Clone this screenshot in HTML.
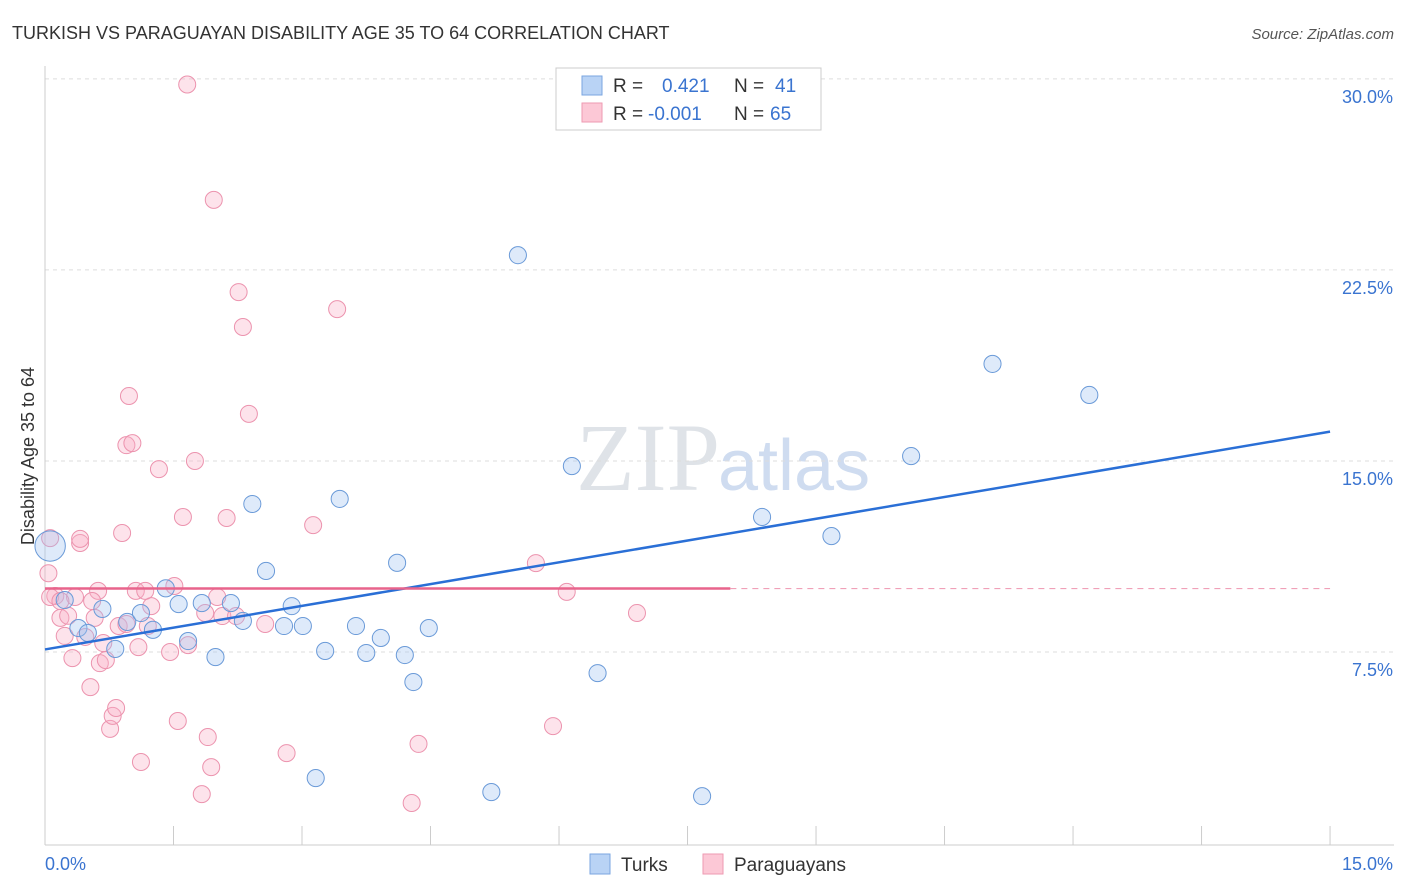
<!DOCTYPE html>
<html><head><meta charset="utf-8">
<style>
body{margin:0;background:#fff;font-family:"Liberation Sans",sans-serif;}
svg{display:block}
</style></head>
<body>
<svg id="chart" width="1406" height="892">
<text x="12" y="39" font-size="18" fill="#333">TURKISH VS PARAGUAYAN DISABILITY AGE 35 TO 64 CORRELATION CHART</text>
<text x="1394" y="39" font-size="15" fill="#555" font-style="italic" text-anchor="end">Source: ZipAtlas.com</text>
<text x="720" y="490" font-size="96" fill="#dfe3e8" text-anchor="end" font-family="Liberation Serif,serif">ZIP</text>
<text x="718" y="490" font-size="72" fill="#cfdcf0">atlas</text>
<g id="grid"></g>
<g id="axes"></g>
<g id="pink"></g>
<g id="blue"></g>
<g id="lines"></g>
<text transform="translate(34,456) rotate(-90)" font-size="18" fill="#333" text-anchor="middle">Disability Age 35 to 64</text>
<g>
<rect x="556" y="68" width="265" height="62" fill="#fff" stroke="#ccc"/>
<rect x="582" y="76" width="20" height="19" fill="#b9d3f5" stroke="#7aa6e0"/>
<rect x="582" y="103" width="20" height="19" fill="#fcc8d6" stroke="#ee9ab2"/>
<text x="613" y="92" font-size="19" fill="#333">R = </text><text x="662" y="92" font-size="19" fill="#3a74d0">0.421</text>
<text x="734" y="92" font-size="19" fill="#333">N = </text><text x="775" y="92" font-size="19" fill="#3a74d0">41</text>
<text x="613" y="120" font-size="19" fill="#333">R = </text><text x="648" y="120" font-size="19" fill="#3a74d0">-0.001</text>
<text x="734" y="120" font-size="19" fill="#333">N = </text><text x="770" y="120" font-size="19" fill="#3a74d0">65</text>
</g>
<g>
<rect x="590" y="854" width="20" height="20" fill="#b9d3f5" stroke="#7aa6e0"/>
<text x="621" y="871" font-size="19" fill="#333">Turks</text>
<rect x="703" y="854" width="20" height="20" fill="#fcc8d6" stroke="#ee9ab2"/>
<text x="734" y="871" font-size="19" fill="#333">Paraguayans</text>
</g>
</svg>
<script>
const yTicks=[7.5,15,22.5,30];
const yTickLabels=["7.5%","15.0%","22.5%","30.0%"];
const xTickLabels=["0.0%","15.0%"];
const blueX=[0.06,0.23,0.39,0.5,0.67,0.82,0.96,1.12,1.26,1.41,1.56,1.67,1.83,1.99,2.17,2.31,2.42,2.58,2.79,2.88,3.01,3.16,3.27,3.44,3.63,3.75,3.92,4.11,4.2,4.3,4.48,5.21,5.52,6.15,6.45,7.67,8.37,9.18,10.11,11.06,12.19];
const blueY=[11.66,9.54,8.44,8.25,9.19,7.62,8.68,9.03,8.37,10.0,9.38,7.93,9.42,7.3,9.42,8.72,13.31,10.68,8.52,9.3,8.52,2.55,7.54,13.51,8.52,7.46,8.05,11.0,7.38,6.32,8.44,2.0,23.08,14.8,6.67,1.84,12.8,12.05,15.19,18.81,17.59];
const blueR=[16,9,9,9,9,9,9,9,9,9,9,9,9,9,9,9,9,9,9,9,9,9,9,9,9,9,9,9,9,9,9,9,9,9,9,9,9,9,9,9,9];
const pinkX=[0.04,0.06,0.12,0.18,0.23,0.27,0.32,0.35,0.41,0.41,0.47,0.53,0.58,0.62,0.64,0.68,0.71,0.76,0.79,0.83,0.86,0.9,0.95,0.98,0.95,1.02,1.06,1.09,1.12,1.2,1.24,1.33,1.46,1.51,1.55,1.61,1.66,1.67,1.75,1.83,1.87,1.9,1.94,1.97,2.01,2.07,2.12,2.23,2.26,2.31,2.38,2.57,2.82,3.13,3.41,4.28,4.36,5.73,5.93,6.09,6.91,0.06,0.55,1.17,0.18];
const pinkY=[10.59,11.97,9.7,8.84,8.13,8.92,7.26,9.66,11.78,11.94,8.09,6.12,8.84,9.9,7.06,7.85,7.18,4.48,4.99,5.3,8.52,12.17,8.6,17.55,15.62,15.7,9.9,7.69,3.18,8.52,9.3,14.68,7.5,10.09,4.79,12.8,29.78,7.77,15.0,1.92,9.03,4.16,2.98,25.25,9.66,8.91,12.76,8.91,21.63,20.26,16.85,8.6,3.53,12.48,20.96,1.57,3.89,10.99,4.59,9.86,9.03,9.66,9.5,9.9,9.5];
const blueLine=[0,7.6,15,16.15];
const pinkLine=[0,9.99,8,9.99];
const X=v=>45+v*85.67, Y=v=>843-v*25.47;
const NS="http://www.w3.org/2000/svg";
function mk(p,tag,at){const e=document.createElementNS(NS,tag);for(const k in at)e.setAttribute(k,at[k]);document.getElementById(p).appendChild(e);return e;}
yTicks.forEach((t,i)=>{
 const g=mk('grid','line',{x1:45,x2:1394,y1:Y(t),y2:Y(t),stroke:'#ddd','stroke-dasharray':'4,4'});
 
 
 const l=mk('grid','text',{x:1393,y:Y(t)+24,'font-size':18,fill:'#3a74d0','text-anchor':'end'});
 l.textContent=yTickLabels[i];
 
 
});
const ax=mk('axes','line',{x1:45,x2:1394,y1:845,y2:845,stroke:'#ccc'});


const ay=mk('axes','line',{x1:45,x2:45,y1:66,y2:845,stroke:'#ccc'});


for(let i=0;i<=10;i++){
 const t=mk('axes','line',{x1:X(i*1.5),x2:X(i*1.5),y1:826,y2:845,stroke:'#ccc'});
 
 
}
[[0,'start',45],[15,'end',1393]].forEach((a,i)=>{
 const l=mk('axes','text',{x:a[2],y:870,'font-size':18,fill:'#3a74d0','text-anchor':a[1]});
 l.textContent=xTickLabels[i];
 
 
});
pinkX.forEach((x,i)=>{
 const c=mk('pink','circle',{cx:X(x),cy:Y(pinkY[i]),r:8.5,fill:'rgba(248,176,198,0.35)',stroke:'#ec93ae','stroke-width':1});
 
 
});
blueX.forEach((x,i)=>{
 const c=mk('blue','circle',{cx:X(x),cy:Y(blueY[i]),r:blueR[i]*0.95,fill:'rgba(160,195,240,0.35)',stroke:'#6a9ad8','stroke-width':1});
 
 
});
const bl=mk('lines','line',{x1:X(blueLine[0]),y1:Y(blueLine[1]),x2:X(blueLine[2]),y2:Y(blueLine[3]),stroke:'#2a6fd6','stroke-width':2.5});


const pl=mk('lines','line',{x1:X(pinkLine[0]),y1:Y(pinkLine[1]),x2:X(pinkLine[2]),y2:Y(pinkLine[3]),stroke:'#e8648c','stroke-width':2.5});


const pd=mk('lines','line',{x1:X(pinkLine[2]),y1:Y(pinkLine[3]),x2:X(15),y2:Y(pinkLine[3]),stroke:'#f0a0b8','stroke-width':1.2,'stroke-dasharray':'6,5'});


</script>
</body></html>
